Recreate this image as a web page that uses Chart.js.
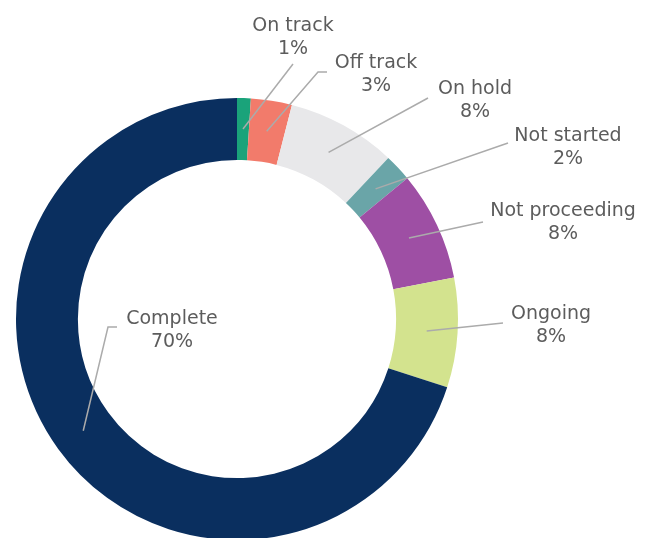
<!DOCTYPE html>
<html>
<head>
<meta charset="utf-8">
<script src="https://cdn.jsdelivr.net/npm/chart.js@4.4.1/dist/chart.umd.min.js"></script>
<style>
  html, body { margin: 0; padding: 0; background: #ffffff; overflow: hidden; }
  #wrap { position: absolute; left: 0; top: 0; width: 651px; height: 560px; }
  canvas { filter: blur(0.5px); }
</style>
</head>
<body>
<div id="wrap"><canvas id="chart" width="651" height="560"></canvas></div>
<script>
// Project status breakdown, clockwise from 12 o'clock
const categories = ['On track', 'Off track', 'On hold', 'Not started', 'Not proceeding', 'Ongoing', 'Complete'];
const shares = [1, 3, 8, 2, 8, 8, 70];
const sliceColors = ['#1aa37a', '#f27b6b', '#e8e8ea', '#6aa5a8', '#9e4fa4', '#d3e38e', '#0a2f5f'];

// Callout layout: text centre of the first line, and the bend/end points of each leader line
const calloutLayout = [
  { text: [293, 26], line: [[293, 64]] },
  { text: [376, 63], line: [[318, 72], [327, 72]] },
  { text: [475, 89], line: [[428, 98]] },
  { text: [568, 136], line: [[508, 143]] },
  { text: [563, 211], line: [[483, 222]] },
  { text: [551, 314], line: [[503, 323]] },
  { text: [172, 319], line: [[108, 327], [117, 327]] }
];

const calloutPlugin = {
  id: 'callouts',
  afterDatasetsDraw(chart) {
    const ctx = chart.ctx;
    const meta = chart.getDatasetMeta(0);
    const values = chart.data.datasets[0].data;
    ctx.save();
    meta.data.forEach((arc, i) => {
      const p = arc.getProps(['x', 'y', 'startAngle', 'endAngle', 'innerRadius', 'outerRadius'], true);
      const mid = (p.startAngle + p.endAngle) / 2;
      const r = (p.innerRadius + p.outerRadius) / 2;
      const ax = p.x + Math.cos(mid) * r;
      const ay = p.y + Math.sin(mid) * r;
      const lay = calloutLayout[i];
      ctx.beginPath();
      ctx.moveTo(ax, ay);
      lay.line.forEach(pt => ctx.lineTo(pt[0], pt[1]));
      ctx.strokeStyle = '#ababab';
      ctx.lineWidth = 1.5;
      ctx.stroke();

      ctx.fillStyle = '#5c5c5c';
      ctx.font = '19px "DejaVu Sans", sans-serif';
      ctx.textAlign = 'center';
      ctx.textBaseline = 'middle';
      ctx.fillText(chart.data.labels[i], lay.text[0], lay.text[1]);
      ctx.fillText(values[i] + '%', lay.text[0], lay.text[1] + 23);
    });
    ctx.restore();
  }
};

new Chart(document.getElementById('chart'), {
  type: 'doughnut',
  data: {
    labels: categories,
    datasets: [{
      data: shares,
      backgroundColor: sliceColors,
      borderWidth: 0
    }]
  },
  options: {
    responsive: false,
    animation: false,
    cutout: '72%',
    rotation: 0,
    layout: { padding: { left: 16, right: 193, top: 98, bottom: 20 } },
    plugins: {
      legend: { display: false },
      tooltip: { enabled: false }
    }
  },
  plugins: [calloutPlugin]
});
</script>
</body>
</html>
